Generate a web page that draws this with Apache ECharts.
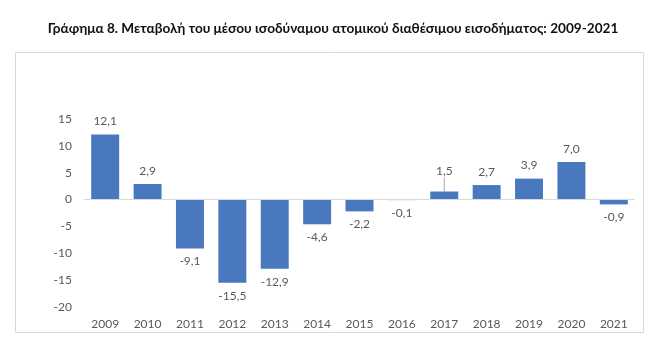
<!DOCTYPE html>
<html>
<head>
<meta charset="utf-8">
<script src="https://cdn.jsdelivr.net/npm/echarts@6/dist/echarts.min.js"></script>
<style>
  html, body { margin: 0; padding: 0; background: #fff; }
  #chart { width: 666px; height: 353px; }
</style>
</head>
<body>
<div id="chart"></div>
<script>
const years = ['2009', '2010', '2011', '2012', '2013', '2014', '2015', '2016', '2017', '2018', '2019', '2020', '2021'];
const change = [12.1, 2.9, -9.1, -15.5, -12.9, -4.6, -2.2, -0.1, 1.5, 2.7, 3.9, 7.0, -0.9];
const titleText = 'Γράφημα 8. Μεταβολή του μέσου ισοδύναμου ατομικού διαθέσιμου εισοδήματος: 2009-2021';

const fmt = v => v.toFixed(1).replace('.', ',');
const font = 'Lato, "Open Sans", sans-serif';

const chart = echarts.init(document.getElementById('chart'));
chart.setOption({
  animation: false,
  title: {
    text: titleText,
    left: 328,
    textAlign: 'center',
    top: 17,
    textStyle: { fontFamily: font, fontSize: 13.6, fontWeight: 'bold', color: '#111' }
  },
  graphic: [{
    type: 'rect',
    shape: { x: 15.5, y: 52.5, width: 628, height: 280 },
    style: { fill: 'none', stroke: '#d9d9d9', lineWidth: 1 },
    silent: true
  }],
  grid: { left: 84, right: 31, top: 119, bottom: 46 },
  xAxis: {
    type: 'category',
    data: years,
    axisLine: { show: false },
    axisTick: { show: false },
    axisLabel: {
      fontFamily: font, fontSize: 12, color: '#595959',
      interval: 0, margin: 11
    }
  },
  yAxis: {
    type: 'value',
    min: -20,
    max: 15,
    interval: 5,
    splitLine: { show: false },
    axisLine: { show: false },
    axisTick: { show: false },
    axisLabel: { fontFamily: font, fontSize: 12, color: '#595959', margin: 12 }
  },
  series: [{
    type: 'bar',
    data: change.map((v, i) => ({
      value: v,
      label: { position: v < 0 ? 'bottom' : 'top' },
      labelLine: { show: i === 8 }
    })),
    barWidth: '66%',
    itemStyle: { color: '#4a78bf' },
    label: {
      show: true,
      distance: 7,
      fontFamily: font,
      fontSize: 12,
      color: '#595959',
      formatter: p => fmt(p.value)
    },
    labelLayout: p => (p.dataIndex === 8 ? { dy: -7 } : {}),
    labelLine: { lineStyle: { color: '#a6a6a6', width: 1 } },
    markLine: {
      silent: true,
      symbol: 'none',
      label: { show: false },
      lineStyle: { color: '#d9d9d9', type: 'solid', width: 1 },
      data: [{ yAxis: 0 }]
    }
  }]
});
</script>
</body>
</html>
